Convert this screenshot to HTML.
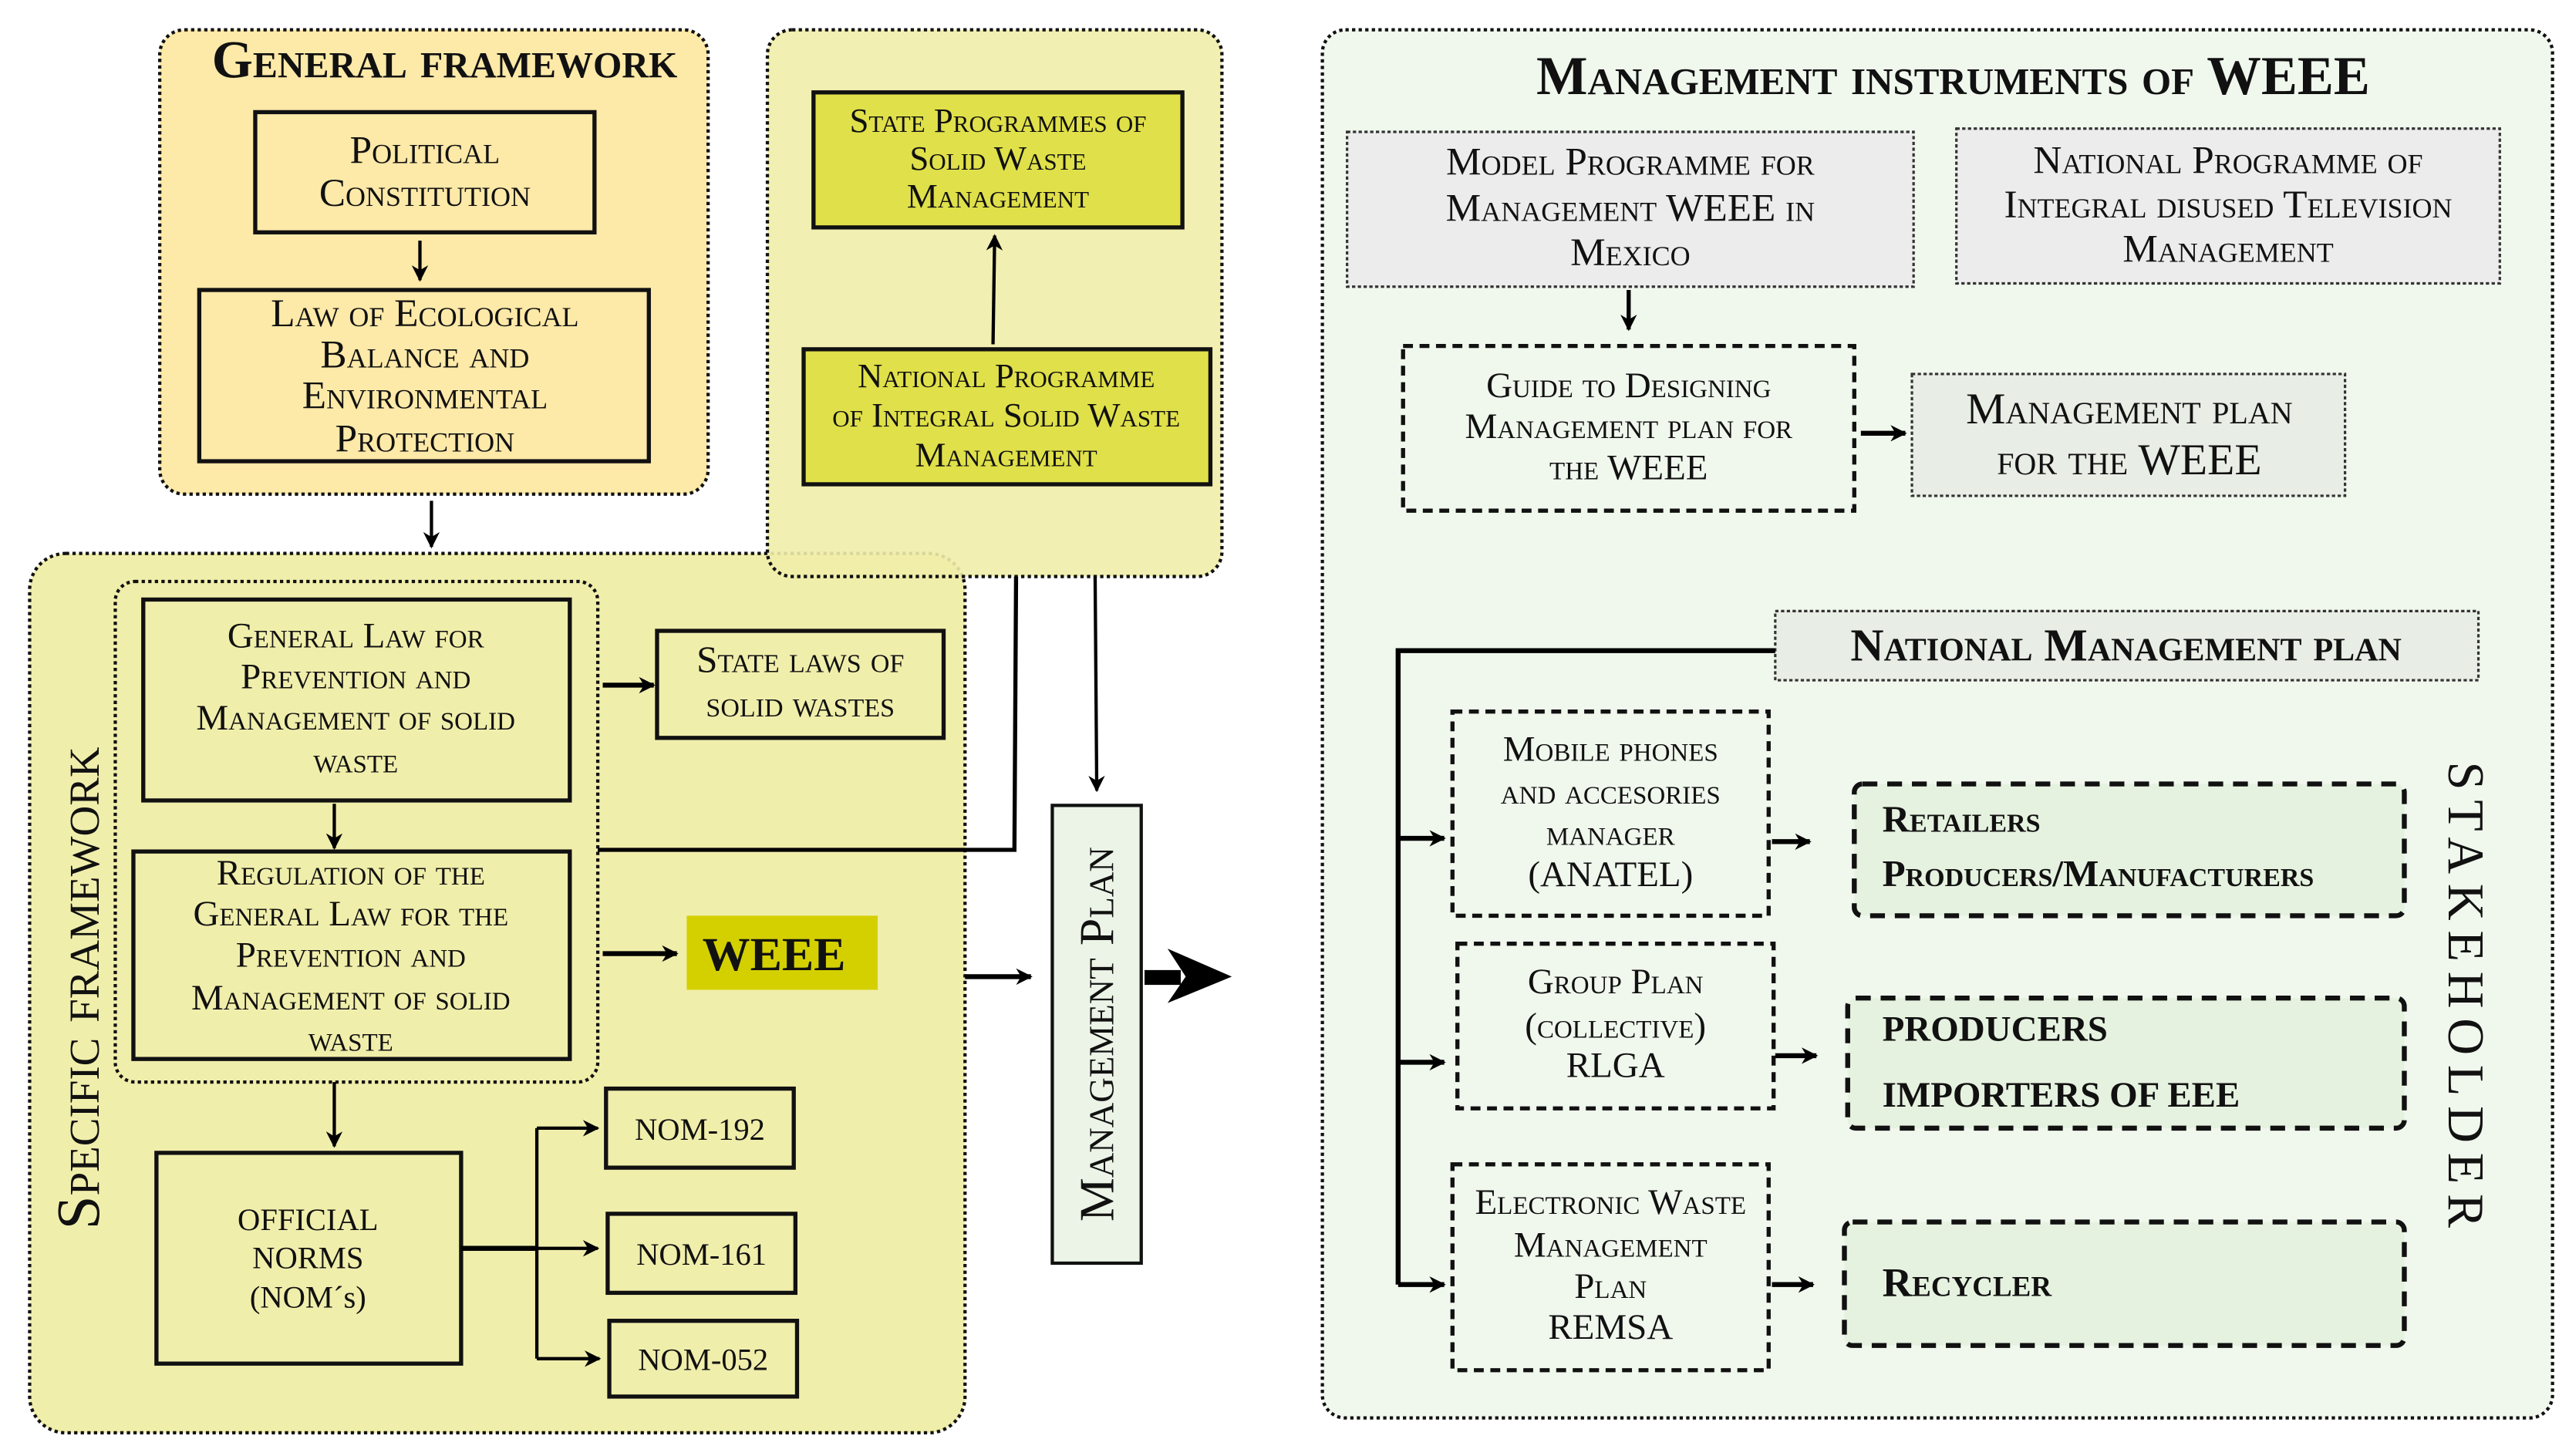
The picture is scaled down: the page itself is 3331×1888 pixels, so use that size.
<!DOCTYPE html>
<html><head><meta charset="utf-8"><style>
html,body{margin:0;padding:0;background:#fff}
svg{display:block}
text{font-family:"Liberation Serif",serif;font-variant:small-caps;fill:#111}
</style></head><body>
<svg width="3331" height="1888" viewBox="0 0 1560 884" xmlns="http://www.w3.org/2000/svg">
<defs>
<marker id="a" markerWidth="10" markerHeight="10" refX="9" refY="5" orient="auto" markerUnits="userSpaceOnUse"><path d="M0,0 L10,5 L0,10 L3,5 Z" fill="#000"/></marker>
</defs>
<rect x="97" y="18" width="333" height="282" rx="15" fill="#fde9a8" stroke="#111" stroke-width="2" stroke-dasharray="2,2"/>
<rect x="18" y="336" width="568" height="534" rx="22" fill="#f0eeab" stroke="#111" stroke-width="2" stroke-dasharray="2,2"/>
<rect x="466" y="18" width="276" height="332" rx="15" fill="#efeda8" fill-opacity="0.9" stroke="#111" stroke-width="2" stroke-dasharray="2,2"/>
<rect x="803" y="18" width="747" height="843" rx="14" fill="#f0f7ed" stroke="#111" stroke-width="2" stroke-dasharray="2,2"/>
<rect x="70" y="353" width="293" height="304" rx="12" fill="none" stroke="#111" stroke-width="2" stroke-dasharray="2,2"/>

<text x="270" y="47" font-size="32" font-weight="bold" text-anchor="middle">General framework</text>
<rect x="155" y="68" width="206" height="73" fill="#fde9a8" stroke="#111" stroke-width="2.5"/>
<text font-size="24" text-anchor="middle"><tspan x="258" y="99">Political</tspan><tspan x="258" y="125">Constitution</tspan></text>
<rect x="121" y="176" width="273" height="104" fill="#fde9a8" stroke="#111" stroke-width="2.5"/>
<text font-size="24" text-anchor="middle"><tspan x="258" y="198">Law of Ecological</tspan><tspan x="258" y="223">Balance and</tspan><tspan x="258" y="248">Environmental</tspan><tspan x="258" y="274">Protection</tspan></text>
<line x1="255" y1="146" x2="255" y2="170" stroke="#000" stroke-width="2" marker-end="url(#a)"/>
<line x1="262" y1="304" x2="262" y2="332" stroke="#000" stroke-width="2" marker-end="url(#a)"/>

<rect x="494" y="56" width="224" height="82" fill="#e0e04a" stroke="#111" stroke-width="2.5"/>
<text font-size="21" text-anchor="middle"><tspan x="606" y="80">State Programmes of</tspan><tspan x="606" y="103">Solid Waste</tspan><tspan x="606" y="126">Management</tspan></text>
<rect x="488" y="212" width="247" height="82" fill="#e0e04a" stroke="#111" stroke-width="2.5"/>
<text font-size="21" text-anchor="middle"><tspan x="611" y="235">National Programme</tspan><tspan x="611" y="259">of Integral Solid Waste</tspan><tspan x="611" y="283">Management</tspan></text>
<line x1="603" y1="209" x2="604" y2="143" stroke="#000" stroke-width="2" marker-end="url(#a)"/>

<text transform="translate(60,600) rotate(-90)" font-size="37" text-anchor="middle">Specific framework</text>
<rect x="87" y="364" width="259" height="122" fill="#f0eeab" stroke="#111" stroke-width="2.5"/>
<text font-size="22" text-anchor="middle"><tspan x="216" y="393">General Law for</tspan><tspan x="216" y="418">Prevention and</tspan><tspan x="216" y="443">Management of solid</tspan><tspan x="216" y="469">waste</tspan></text>
<rect x="399" y="383" width="174" height="65" fill="#f0eeab" stroke="#111" stroke-width="2.5"/>
<text font-size="23" text-anchor="middle"><tspan x="486" y="408">State laws of</tspan><tspan x="486" y="435">solid wastes</tspan></text>
<line x1="366" y1="416" x2="397" y2="416" stroke="#000" stroke-width="3" marker-end="url(#a)"/>
<line x1="203" y1="488" x2="203" y2="515" stroke="#000" stroke-width="2" marker-end="url(#a)"/>
<rect x="81" y="517" width="265" height="126" fill="#f0eeab" stroke="#111" stroke-width="2.5"/>
<text font-size="22" text-anchor="middle"><tspan x="213" y="537">Regulation of the</tspan><tspan x="213" y="562">General Law for the</tspan><tspan x="213" y="587">Prevention  and</tspan><tspan x="213" y="613">Management of solid</tspan><tspan x="213" y="638">waste</tspan></text>
<polyline points="363,516 616,516 617,350" fill="none" stroke="#000" stroke-width="2.5"/>
<line x1="665" y1="350" x2="666" y2="480" stroke="#000" stroke-width="2" marker-end="url(#a)"/>
<rect x="417" y="556" width="116" height="45" fill="#d4d000"/>
<text x="470" y="589" font-size="29" font-weight="bold" text-anchor="middle" style="font-variant:normal">WEEE</text>
<line x1="366" y1="579" x2="411" y2="579" stroke="#000" stroke-width="3" marker-end="url(#a)"/>
<line x1="203" y1="657" x2="203" y2="696" stroke="#000" stroke-width="2" marker-end="url(#a)"/>
<rect x="95" y="700" width="185" height="128" fill="#f0eeab" stroke="#111" stroke-width="2.5"/>
<text font-size="19" text-anchor="middle" style="font-variant:normal"><tspan x="187" y="747">OFFICIAL</tspan><tspan x="187" y="770">NORMS</tspan><tspan x="187" y="794">(NOM´s)</tspan></text>
<line x1="280" y1="758" x2="326" y2="758" stroke="#000" stroke-width="3"/>
<line x1="326" y1="685" x2="326" y2="825" stroke="#000" stroke-width="2"/>
<line x1="326" y1="685" x2="363" y2="685" stroke="#000" stroke-width="2" marker-end="url(#a)"/>
<line x1="326" y1="758" x2="363" y2="758" stroke="#000" stroke-width="2" marker-end="url(#a)"/>
<line x1="326" y1="825" x2="364" y2="825" stroke="#000" stroke-width="2" marker-end="url(#a)"/>
<rect x="368" y="661" width="114" height="48" fill="#f0eeab" stroke="#111" stroke-width="2.5"/>
<text x="425" y="692" font-size="19" text-anchor="middle">NOM-192</text>
<rect x="369" y="737" width="114" height="48" fill="#f0eeab" stroke="#111" stroke-width="2.5"/>
<text x="426" y="768" font-size="19" text-anchor="middle">NOM-161</text>
<rect x="370" y="802" width="114" height="46" fill="#f0eeab" stroke="#111" stroke-width="2.5"/>
<text x="427" y="832" font-size="19" text-anchor="middle">NOM-052</text>
<line x1="586" y1="593" x2="626" y2="593" stroke="#000" stroke-width="3" marker-end="url(#a)"/>

<rect x="639" y="489" width="54" height="278" fill="#ebf4e6" stroke="#111" stroke-width="2"/>
<text transform="translate(676,628) rotate(-90)" font-size="30" text-anchor="middle">Management Plan</text>
<rect x="695" y="589" width="22" height="9" fill="#000"/>
<path d="M709,576 L748,593 L709,609 L720,593 Z" fill="#000"/>

<text x="1186" y="57" font-size="33" font-weight="bold" text-anchor="middle">Management instruments of WEEE</text>
<rect x="818" y="80" width="344" height="94" fill="#ececec" stroke="#333" stroke-width="1.5" stroke-dasharray="2,1.5"/>
<text font-size="24" text-anchor="middle"><tspan x="990" y="106">Model Programme for</tspan><tspan x="990" y="134">Management WEEE in</tspan><tspan x="990" y="161">Mexico</tspan></text>
<rect x="1188" y="78" width="330" height="94" fill="#ececec" stroke="#333" stroke-width="1.5" stroke-dasharray="2,1.5"/>
<text font-size="24" text-anchor="middle"><tspan x="1353" y="105">National Programme of</tspan><tspan x="1353" y="132">Integral disused Television</tspan><tspan x="1353" y="159">Management</tspan></text>
<line x1="989" y1="176" x2="989" y2="200" stroke="#000" stroke-width="2.5" marker-end="url(#a)"/>
<rect x="852" y="210" width="274" height="100" fill="none" stroke="#111" stroke-width="2.5" stroke-dasharray="6,4"/>
<text font-size="22" text-anchor="middle"><tspan x="989" y="241">Guide to Designing</tspan><tspan x="989" y="266">Management plan for</tspan><tspan x="989" y="291">the WEEE</tspan></text>
<line x1="1130" y1="263" x2="1157" y2="263" stroke="#000" stroke-width="3" marker-end="url(#a)"/>
<rect x="1161" y="227" width="263" height="74" fill="#e8ede5" stroke="#333" stroke-width="1.5" stroke-dasharray="2,1.5"/>
<text font-size="27" text-anchor="middle"><tspan x="1293" y="257">Management plan</tspan><tspan x="1293" y="288">for the WEEE</tspan></text>
<rect x="1078" y="371" width="427" height="42" fill="#e8ede5" stroke="#333" stroke-width="1.5" stroke-dasharray="2,1.5"/>
<text x="1291" y="401" font-size="28" font-weight="bold" text-anchor="middle">National Management plan</text>
<polyline points="1078,395 849,395 849,780" fill="none" stroke="#000" stroke-width="3"/>
<line x1="849" y1="509" x2="877" y2="509" stroke="#000" stroke-width="3" marker-end="url(#a)"/>
<line x1="849" y1="645" x2="877" y2="645" stroke="#000" stroke-width="3" marker-end="url(#a)"/>
<line x1="849" y1="780" x2="877" y2="780" stroke="#000" stroke-width="3" marker-end="url(#a)"/>
<rect x="882" y="432" width="192" height="124" fill="none" stroke="#111" stroke-width="2.5" stroke-dasharray="6,4"/>
<text font-size="22" text-anchor="middle"><tspan x="978" y="462">Mobile phones</tspan><tspan x="978" y="488">and accesories</tspan><tspan x="978" y="513">manager</tspan><tspan x="978" y="538" style="font-variant:normal">(ANATEL)</tspan></text>
<rect x="885" y="573" width="192" height="100" fill="none" stroke="#111" stroke-width="2.5" stroke-dasharray="6,4"/>
<text font-size="22" text-anchor="middle"><tspan x="981" y="603">Group Plan</tspan><tspan x="981" y="630">(collective)</tspan><tspan x="981" y="654" style="font-variant:normal">RLGA</tspan></text>
<rect x="882" y="707" width="192" height="125" fill="none" stroke="#111" stroke-width="2.5" stroke-dasharray="6,4"/>
<text font-size="22" text-anchor="middle"><tspan x="978" y="737">Electronic Waste</tspan><tspan x="978" y="763">Management</tspan><tspan x="978" y="788">Plan</tspan><tspan x="978" y="813" style="font-variant:normal">REMSA</tspan></text>
<line x1="1076" y1="511" x2="1099" y2="511" stroke="#000" stroke-width="3" marker-end="url(#a)"/>
<line x1="1078" y1="641" x2="1103" y2="641" stroke="#000" stroke-width="3" marker-end="url(#a)"/>
<line x1="1076" y1="780" x2="1101" y2="780" stroke="#000" stroke-width="3" marker-end="url(#a)"/>
<rect x="1126" y="476" width="334" height="80" rx="5" fill="#e6f2e0" stroke="#111" stroke-width="3" stroke-dasharray="9,6"/>
<text font-size="23" font-weight="bold"><tspan x="1143" y="505">Retailers</tspan><tspan x="1143" y="538">Producers/Manufacturers</tspan></text>
<rect x="1122" y="606" width="338" height="79" rx="5" fill="#e6f2e0" stroke="#111" stroke-width="3" stroke-dasharray="9,6"/>
<text font-size="22" font-weight="bold" style="font-variant:normal"><tspan x="1143" y="632">PRODUCERS</tspan><tspan x="1143" y="672">IMPORTERS OF EEE</tspan></text>
<rect x="1120" y="742" width="340" height="75" rx="5" fill="#e6f2e0" stroke="#111" stroke-width="3" stroke-dasharray="9,6"/>
<text x="1143" y="787" font-size="25" font-weight="bold">Recycler</text>
<text transform="translate(1487,607) rotate(90)" font-size="31" letter-spacing="6" text-anchor="middle" style="font-variant:normal">STAKEHOLDER</text>
</svg>
</body></html>
